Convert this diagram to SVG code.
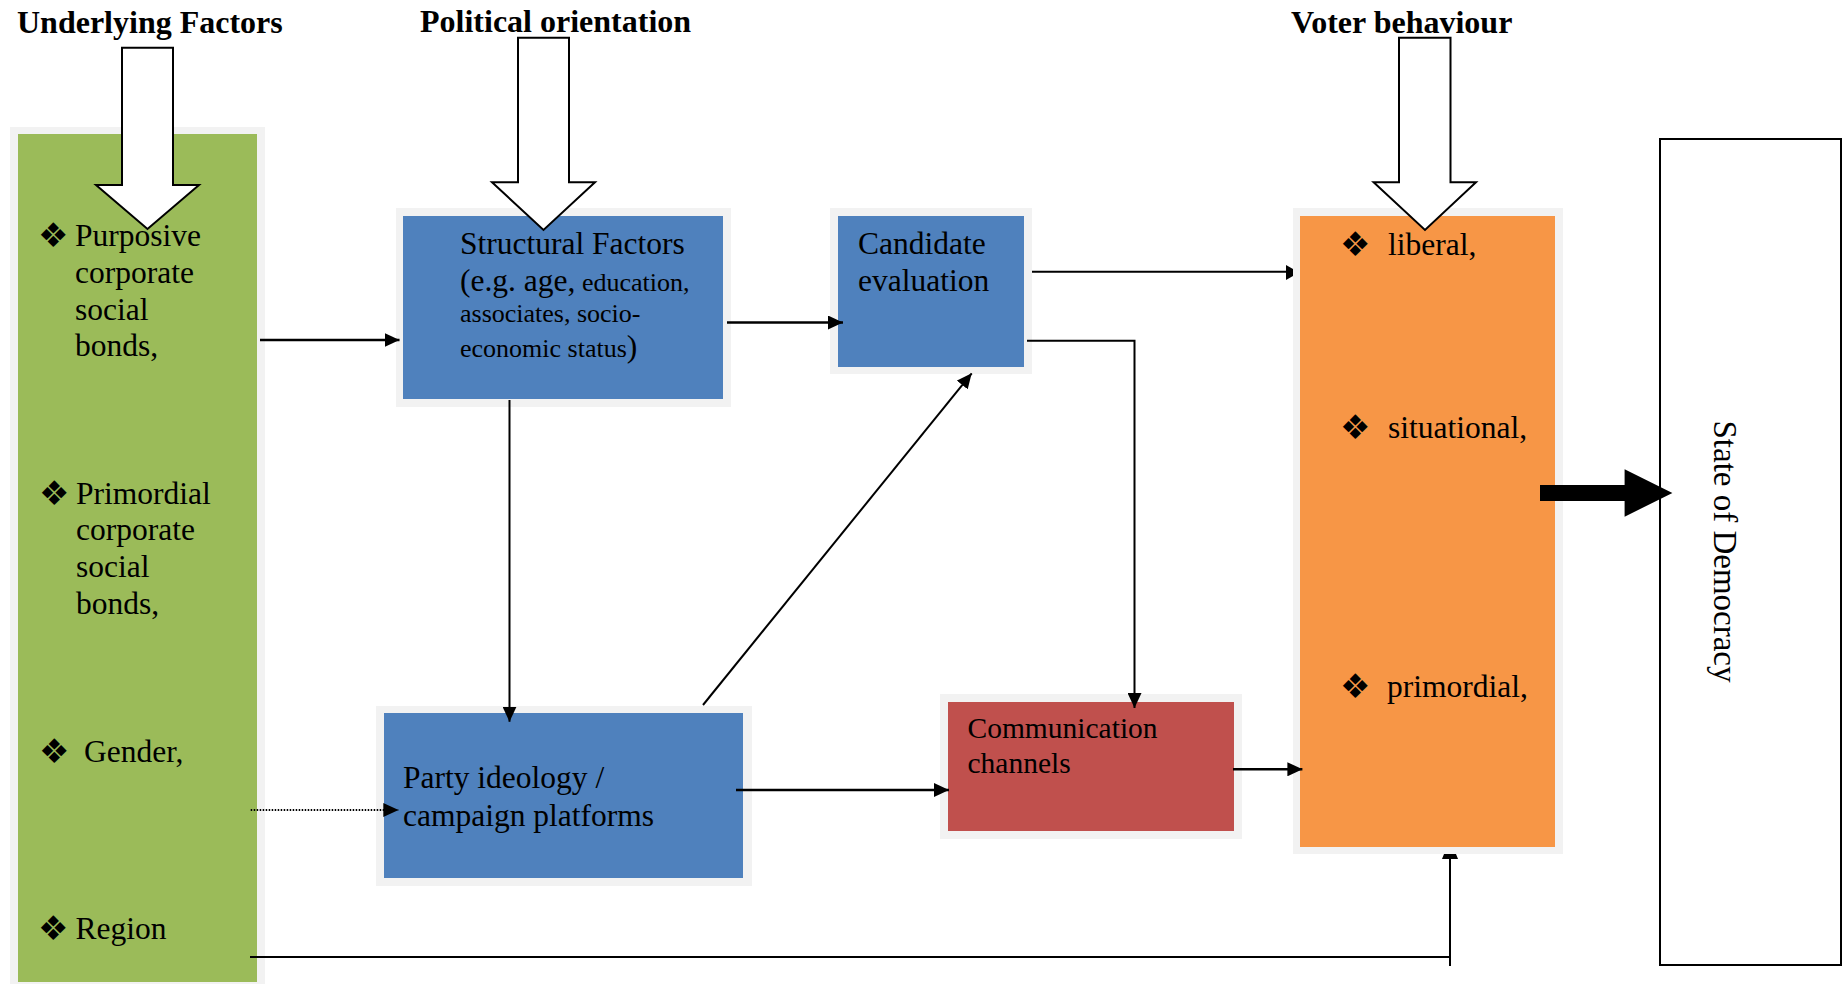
<svg xmlns="http://www.w3.org/2000/svg" width="1843" height="984" viewBox="0 0 1843 984">
<defs>
<style>
.t{font-family:"Liberation Serif","Times New Roman",serif;font-size:31.5px;fill:#000}
.s{font-size:26px}
.h{font-family:"Liberation Serif","Times New Roman",serif;font-size:32px;font-weight:bold;fill:#000}
.b{font-family:"DejaVu Sans",sans-serif;font-size:34px;fill:#000}
.frame{fill:#F2F2F2}
.ln{fill:none;stroke:#000;stroke-width:2.5}
.thin{fill:none;stroke:#000;stroke-width:2}
.hollow{fill:#fff;stroke:#000;stroke-width:2;stroke-linejoin:miter}
</style>
<marker id="ah" viewBox="0 0 15 14" refX="15" refY="7" markerWidth="15" markerHeight="14" markerUnits="userSpaceOnUse" orient="auto">
<path d="M0,0 L15,7 L0,14 z" fill="#000"/>
</marker>
</defs>
<rect width="1843" height="984" fill="#fff"/>

<g id="headers">
<text class="h" x="17" y="33">Underlying Factors</text>
<text class="h" x="420" y="32">Political orientation</text>
<text class="h" x="1291" y="33">Voter behaviour</text>
</g>

<g id="underlying">
<rect class="frame" x="10" y="127" width="255" height="857"/>
<rect x="18" y="134" width="239" height="848" fill="#9BBB59"/>
</g>

<g id="structural">
<rect class="frame" x="396" y="208" width="335" height="199"/>
<rect x="403" y="216" width="320" height="183" fill="#4F81BD"/>
</g>

<g id="candidate">
<rect class="frame" x="830" y="208" width="202" height="166"/>
<rect x="838" y="216" width="186" height="151" fill="#4F81BD"/>
</g>

<g id="party">
<rect class="frame" x="376" y="706" width="376" height="180"/>
<rect x="384" y="713" width="359" height="165" fill="#4F81BD"/>
</g>

<g id="communication">
<rect class="frame" x="940" y="694" width="302" height="145"/>
<rect x="948" y="702" width="286" height="129" fill="#C0504D"/>
</g>

<g id="voter">
<rect class="frame" x="1293" y="208" width="270" height="646"/>
<rect x="1300" y="216" width="255" height="631" fill="#F79646"/>
</g>

<g id="democracy">
<rect x="1660" y="139" width="181" height="826" fill="#fff" stroke="#000" stroke-width="2"/>
<text class="t" x="1714" y="551.5" text-anchor="middle" style="font-size:33px" transform="rotate(90 1714 551.5)">State of Democracy</text>
</g>

<g id="connectors">
<path class="ln" d="M260,340 L399.5,340" marker-end="url(#ah)"/>
<path class="ln" d="M727,322.5 L843,322.5" marker-end="url(#ah)"/>
<path class="thin" d="M1032,271.7 L1287,271.7"/>
<polygon points="1286,265 1293,269 1293,276 1286,280" fill="#000"/>
<path class="thin" d="M1027,340.7 H1134.5 V708" marker-end="url(#ah)"/>
<path class="thin" d="M509.5,400 V721.7" marker-end="url(#ah)"/>
<path class="thin" d="M703,705 L971.7,373.3" marker-end="url(#ah)"/>
<path class="ln" d="M736,790 L949,790" marker-end="url(#ah)"/>
<path class="ln" d="M1233,769.3 L1302.4,769.3" marker-end="url(#ah)"/>
<path fill="none" stroke="#000" stroke-width="2" stroke-dasharray="1.5 1.5" d="M250.7,810 L398.3,810" marker-end="url(#ah)"/>
<path class="thin" d="M250,957 H1450"/>
<path class="thin" d="M1450,966 V857"/>
<polygon points="1442,859 1444,854 1456,854 1458,859" fill="#000"/>
<polygon points="1540,485 1624.6,485 1624.6,469.3 1672.4,493 1624.6,516.7 1624.6,501 1540,501" fill="#000"/>
</g>

<g id="hollow-arrows">
<polygon class="hollow" points="122,47.7 173,47.7 173,185 199,185 147.5,229 96,185 122,185"/>
<polygon class="hollow" points="518,37.7 569,37.7 569,182.3 595,182.3 543.5,230 492,182.3 518,182.3"/>
<polygon class="hollow" points="1399,37.7 1450.5,37.7 1450.5,182.3 1476,182.3 1425,230 1373.6,182.3 1399,182.3"/>
</g>

<g id="underlying-text">
<text class="b" x="38" y="247">❖</text>
<text class="t" x="75" y="246">Purposive</text>
<text class="t" x="75" y="283">corporate</text>
<text class="t" x="75" y="320">social</text>
<text class="t" x="75" y="356">bonds,</text>
<text class="b" x="39" y="505">❖</text>
<text class="t" x="76" y="504">Primordial</text>
<text class="t" x="76" y="540">corporate</text>
<text class="t" x="76" y="577">social</text>
<text class="t" x="76" y="614">bonds,</text>
<text class="b" x="39" y="763">❖</text>
<text class="t" x="84" y="762">Gender,</text>
<text class="b" x="38" y="940">❖</text>
<text class="t" x="75.5" y="939">Region</text>
</g>

<g id="structural-text">
<text class="t" x="460" y="254">Structural Factors</text>
<text class="t" x="460" y="291">(e.g. age,<tspan class="s"> education,</tspan></text>
<text class="t s" x="460" y="322">associates, socio-</text>
<text class="t" x="460" y="357"><tspan class="s">economic status</tspan>)</text>
</g>

<g id="candidate-text">
<text class="t" x="858" y="254">Candidate</text>
<text class="t" x="858" y="291">evaluation</text>
</g>

<g id="party-text">
<text class="t" x="403" y="788">Party ideology /</text>
<text class="t" x="403" y="826">campaign platforms</text>
</g>

<g id="communication-text">
<text class="t" x="967.5" y="738" style="font-size:29.5px">Communication</text>
<text class="t" x="967.5" y="773" style="font-size:29.5px">channels</text>
</g>

<g id="voter-text">
<text class="b" x="1340" y="256">❖</text>
<text class="t" x="1388" y="255">liberal,</text>
<text class="b" x="1340" y="439">❖</text>
<text class="t" x="1388" y="438">situational,</text>
<text class="b" x="1340" y="698">❖</text>
<text class="t" x="1387" y="697">primordial,</text>
</g>
</svg>
